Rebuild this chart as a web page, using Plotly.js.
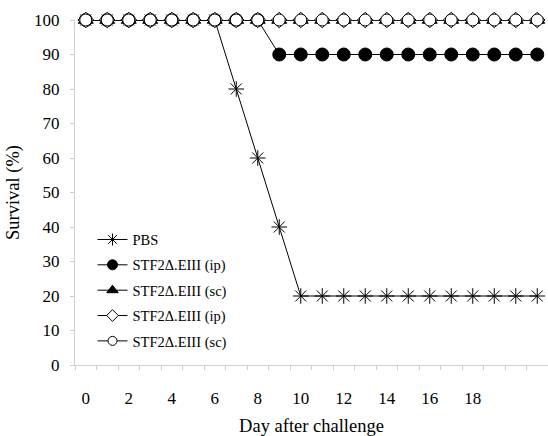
<!DOCTYPE html>
<html>
<head>
<meta charset="utf-8">
<script src="https://cdn.plot.ly/plotly-3.0.1.min.js"></script>
<style>html,body{margin:0;padding:0;background:#fff;}#chart{width:548px;height:436px;}</style>
</head>
<body>
<div id="chart"></div>
<script>
const days = [0,1,2,3,4,5,6,7,8,9,10,11,12,13,14,15,16,17,18,19,20,21];
const xTickVals = [0,2,4,6,8,10,12,14,16,18];
const yTickVals = [0,10,20,30,40,50,60,70,80,90,100];
const seriesNames = ['PBS','STF2\u0394.EIII (ip)','STF2\u0394.EIII (sc)','STF2\u0394.EIII (ip)','STF2\u0394.EIII (sc)'];
const pbs    = [100,100,100,100,100,100,100,80,60,40,20,20,20,20,20,20,20,20,20,20,20,20];
const stfIpA = [100,100,100,100,100,100,100,100,100,90,90,90,90,90,90,90,90,90,90,90,90,90];
const stfScA = [100,100,100,100,100,100,100,100,100,100,100,100,100,100,100,100,100,100,100,100,100,100];
const stfIpB = [100,100,100,100,100,100,100,100,100,100,100,100,100,100,100,100,100,100,100,100,100,100];
const stfScB = [100,100,100,100,100,100,100,100,100,100,100,100,100,100,100,100,100,100,100,100,100,100];

const seriesValues = [pbs, stfIpA, stfScA, stfIpB, stfScB];
const symbols = ['asterisk-open','circle','triangle-up','diamond','circle'];
const fills = ['#000','#000','#000','#fff','#fff'];
const plotSizes = [13,13,13,12,12];
const legendSizes = [10,10,10,9,9];

const lineStyle = {color:'#000', width:1};
const traces = [];
seriesValues.forEach((vals, i) => {
  traces.push({x:days, y:vals, name:seriesNames[i], mode:'lines+markers', line:lineStyle,
    showlegend:false, cliponaxis:false,
    marker:{symbol:symbols[i], size:plotSizes[i], color:fills[i], line:{color:'#000', width:1}}});
});
// legend-only entries (smaller symbols, as in the original legend)
seriesValues.forEach((vals, i) => {
  traces.push({x:[null], y:[null], name:seriesNames[i], mode:'lines+markers', line:lineStyle,
    legendgroup:'g'+i, showlegend:true,
    marker:{symbol:symbols[i], size:legendSizes[i], color:fills[i], line:{color:'#000', width:1}}});
});

const fam = 'Liberation Serif';
const layout = {
  width:548, height:436,
  margin:{l:75, r:0, t:20, b:71},
  paper_bgcolor:'#fff', plot_bgcolor:'#fff',
  font:{family:fam, color:'#000', size:17},
  showlegend:true,
  legend:{x:0.037, y:0.41, xanchor:'left', yanchor:'top', bgcolor:'rgba(0,0,0,0)',
          font:{family:fam, size:14.5, color:'#000'}, tracegroupgap:3.5, itemwidth:30,
          traceorder:'grouped'},
  xaxis:{range:[-0.5,21.5], tickvals:xTickVals, ticktext:xTickVals.map(String),
         ticks:'', showline:true, linecolor:'#cfcfcf', linewidth:1, showgrid:false, zeroline:false,
         ticklabelstandoff:18, tickfont:{family:fam, size:17},
         minor:{tick0:0.5, dtick:1, ticks:'outside', ticklen:4, tickcolor:'#cfcfcf', showgrid:false},
         title:{text:'Day after challenge', font:{family:fam, size:18.5}, standoff:13}},
  yaxis:{range:[0,100], tickvals:yTickVals, ticks:'outside', ticklen:4, tickcolor:'#cfcfcf',
         showline:true, linecolor:'#cfcfcf', linewidth:1, showgrid:false, zeroline:false,
         ticklabelstandoff:7, tickfont:{family:fam, size:17},
         title:{text:'Survival (%)', font:{family:fam, size:18.5}, standoff:9}}
};
Plotly.newPlot('chart', traces, layout, {staticPlot:true});
</script>
</body>
</html>
